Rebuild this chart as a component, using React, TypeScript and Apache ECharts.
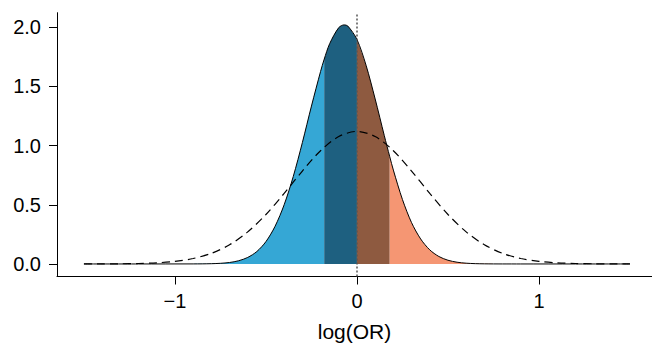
import React, { useEffect, useRef } from "react";
import * as echarts from "echarts";

// Prior density (dashed)
const priorX = [-1.5, -1.4, -1.3, -1.2, -1.1, -1.0, -0.9, -0.8, -0.7, -0.6, -0.5, -0.4, -0.3, -0.2, -0.1, 0, 0.1, 0.2, 0.3, 0.4, 0.5, 0.6, 0.7, 0.8, 0.9, 1.0, 1.1, 1.2, 1.3, 1.4, 1.5];
const priorY = [0.0002, 0.0005, 0.0014, 0.0038, 0.0095, 0.0217, 0.0458, 0.0897, 0.162, 0.271, 0.418, 0.596, 0.785, 0.957, 1.077, 1.12, 1.077, 0.957, 0.785, 0.596, 0.418, 0.271, 0.162, 0.0897, 0.0458, 0.0217, 0.0095, 0.0038, 0.0014, 0.0005, 0.0002];

// Posterior density (solid, shaded)
const postX = [-1.5, -1.2, -0.9, -0.85, -0.8, -0.75, -0.7, -0.65, -0.6, -0.55, -0.5, -0.45, -0.4, -0.35, -0.3, -0.25, -0.2, -0.18, -0.15, -0.1, -0.07, -0.05, 0, 0.05, 0.1, 0.15, 0.18, 0.2, 0.25, 0.3, 0.35, 0.4, 0.45, 0.5, 0.55, 0.6, 0.65, 0.7, 0.75, 0.8, 0.9, 1.2, 1.5];
const postY = [0, 0, 0.0003, 0.0008, 0.0022, 0.0054, 0.0124, 0.0271, 0.0552, 0.105, 0.189, 0.318, 0.5, 0.739, 1.025, 1.334, 1.626, 1.73, 1.861, 1.997, 2.02, 2.01, 1.897, 1.679, 1.394, 1.086, 0.907, 0.793, 0.544, 0.349, 0.211, 0.119, 0.063, 0.0314, 0.0146, 0.0064, 0.0026, 0.001, 0.0004, 0.0001, 0, 0, 0];

// Shaded regions (ROPE around 0)
const regionBreaks = [-1.5, -0.18, 0, 0.18, 1.5];
const regionColors = ["#35a7d5", "#1e6080", "#8e5a40", "#f59673"];

const xTicks = [-1, 0, 1];
const xTickLabels = ["\u22121", "0", "1"];
const yTicks = [0, 0.5, 1, 1.5, 2];
const yTickLabels = ["0.0", "0.5", "1.0", "1.5", "2.0"];
const xTitle = "log(OR)";

const FONT = "'Liberation Sans', Arial, Helvetica, sans-serif";

export default function App() {
  const ref = useRef<HTMLDivElement>(null);

  useEffect(() => {
    if (!ref.current) return;
    const chart = echarts.init(ref.current, null, { renderer: "svg" });

    const postPairs = postX.map((x, i) => [x, postY[i]]);
    const priorPairs = priorX.map((x, i) => [x, priorY[i]]);

    const regionSeries = regionColors.map((color, r) => {
      const lo = regionBreaks[r];
      const hi = regionBreaks[r + 1];
      return {
        type: "line",
        data: postPairs.filter((p) => p[0] >= lo - 1e-9 && p[0] <= hi + 1e-9),
        smooth: 0.3,
        symbol: "none",
        showSymbol: false,
        silent: true,
        lineStyle: { width: 0, opacity: 0 },
        areaStyle: { color, opacity: 1 },
        z: 1,
      };
    });

    chart.setOption({
      animation: false,
      grid: { left: 57, right: 0, top: 12.7, bottom: 66.5, containLabel: false, outerBoundsMode: "none" },
      xAxis: {
        type: "value",
        min: -1.648,
        max: 1.621,
        splitLine: { show: false },
        axisLine: { show: true, onZero: false, lineStyle: { color: "#000", width: 1 } },
        axisTick: { show: true, length: 8, customValues: xTicks, lineStyle: { color: "#000", width: 1 } },
        axisLabel: {
          customValues: xTicks,
          formatter: (v: number) => xTickLabels[xTicks.indexOf(v)] ?? String(v),
          fontSize: 20,
          color: "#000",
          fontFamily: FONT,
          margin: 14,
        },
        name: xTitle,
        nameLocation: "middle",
        nameGap: 44,
        nameTextStyle: { fontSize: 21, lineHeight: 21, color: "#000", fontFamily: FONT },
      },
      yAxis: {
        type: "value",
        min: -0.106,
        max: 2.123,
        splitLine: { show: false },
        axisLine: { show: true, onZero: false, lineStyle: { color: "#000", width: 1 } },
        axisTick: { show: true, length: 8, customValues: yTicks, lineStyle: { color: "#000", width: 1 } },
        axisLabel: {
          customValues: yTicks,
          formatter: (v: number) => yTickLabels[yTicks.indexOf(v)] ?? String(v),
          fontSize: 20,
          color: "#000",
          fontFamily: FONT,
          margin: 16,
        },
      },
      series: [
        ...regionSeries,
        {
          type: "line",
          data: postPairs,
          smooth: 0.3,
          symbol: "none",
          showSymbol: false,
          silent: true,
          lineStyle: { color: "#000", width: 1 },
          z: 3,
        },
        {
          type: "line",
          data: priorPairs,
          smooth: 0.3,
          symbol: "none",
          showSymbol: false,
          silent: true,
          lineStyle: { color: "#000", width: 1.2, type: [8, 5] },
          z: 4,
          markLine: {
            silent: true,
            symbol: ["none", "none"],
            label: { show: false },
            lineStyle: { color: "#555", width: 1.5, type: [2, 2] },
            data: [{ xAxis: 0 }],
          },
        },
      ],
    });

    return () => chart.dispose();
  }, []);

  return (
    <div
      ref={ref}
      style={{ position: "fixed", left: 0, top: 0, width: 652, height: 343, background: "#fff" }}
    />
  );
}
